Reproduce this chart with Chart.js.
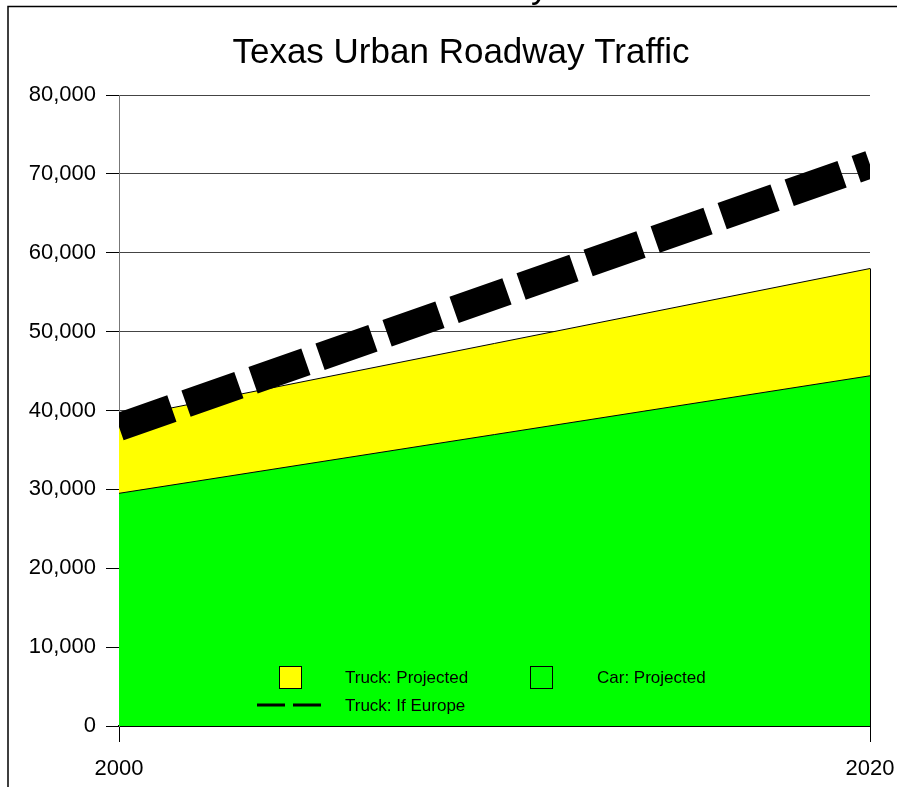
<!DOCTYPE html>
<html>
<head>
<meta charset="utf-8">
<script src="https://cdn.jsdelivr.net/npm/chart.js@4/dist/chart.umd.min.js"></script>
<style>
  html, body { margin: 0; padding: 0; background: #fff; }
  #wrap { width: 897px; height: 787px; position: relative; }
</style>
</head>
<body>
<div id="wrap"><canvas id="c" width="897" height="787"></canvas></div>
<script>
// ---- data ----
const chartTitle = "Texas Urban Roadway Traffic";
const years = [2000, 2020];
const carProjected = [29500, 44400];
const truckProjected = [9500, 13600];   // stacked on top of cars
const truckIfEurope = [37900, 71200];
const xTickValues = [2000, 2020];
const yTickMax = 80000;
const yTickStep = 10000;

const FONT = "'Liberation Sans', Arial, sans-serif";

const decorPlugin = {
  id: 'decor',
  beforeDraw(chart) {
    const ctx = chart.ctx;
    ctx.save();
    ctx.fillStyle = '#fff';
    ctx.fillRect(0, 0, chart.width, chart.height);
    // frame
    ctx.strokeStyle = '#000';
    ctx.lineWidth = 1.5;
    ctx.beginPath();
    ctx.moveTo(8, chart.height);
    ctx.lineTo(8, 6.5);
    ctx.lineTo(chart.width, 6.5);
    ctx.stroke();
    // cut-off text from above
    ctx.fillStyle = '#000';
    ctx.font = '35px ' + FONT;
    ctx.textBaseline = 'alphabetic';
    ctx.textAlign = 'left';
    ctx.fillText('y', 531, -2);
    // title
    ctx.textAlign = 'center';
    ctx.textBaseline = 'middle';
    ctx.fillText(chartTitle, 461, 53);
    ctx.restore();
  },
  afterDatasetsDraw(chart) {
    const ctx = chart.ctx;
    const xs = chart.scales.x, ys = chart.scales.y;
    // right edge of the filled areas
    const i = years.length - 1;
    const xr = xs.getPixelForValue(years[i]);
    const yt = ys.getPixelForValue(carProjected[i] + truckProjected[i]);
    ctx.save();
    ctx.strokeStyle = '#000';
    ctx.lineWidth = 1;
    ctx.beginPath();
    ctx.moveTo(xr + 0.5, yt);
    ctx.lineTo(xr + 0.5, ys.getPixelForValue(0));
    ctx.stroke();
    ctx.restore();
  },
  afterDraw(chart) {
    // legend inside plot
    const ctx = chart.ctx;
    const ds = chart.data.datasets;
    const europe = ds[0], car = ds[1], truck = ds[2];
    ctx.save();
    ctx.font = '17px ' + FONT;
    ctx.textBaseline = 'middle';
    ctx.textAlign = 'left';
    ctx.lineWidth = 1;
    ctx.strokeStyle = '#000';
    // Truck: Projected
    ctx.fillStyle = truck.backgroundColor;
    ctx.fillRect(279.5, 666.5, 22, 22);
    ctx.strokeRect(279.5, 666.5, 22, 22);
    ctx.fillStyle = '#000';
    ctx.fillText(truck.label, 345, 678);
    // Car: Projected
    ctx.fillStyle = car.backgroundColor;
    ctx.fillRect(530.5, 666.5, 22, 22);
    ctx.strokeRect(530.5, 666.5, 22, 22);
    ctx.fillStyle = '#000';
    ctx.fillText(car.label, 597, 678);
    // Truck: If Europe
    ctx.lineWidth = 3;
    ctx.beginPath();
    ctx.moveTo(257, 705); ctx.lineTo(285, 705);
    ctx.moveTo(293, 705); ctx.lineTo(321, 705);
    ctx.stroke();
    ctx.fillText(europe.label, 345, 706);
    ctx.restore();
  }
};

const ctx = document.getElementById('c').getContext('2d');
new Chart(ctx, {
  type: 'line',
  data: {
    datasets: [
      {
        label: 'Truck: If Europe',
        data: years.map((y, i) => ({ x: y, y: truckIfEurope[i] })),
        borderColor: '#000',
        borderWidth: 28,
        borderDash: [56, 15],
        borderCapStyle: 'butt',
        pointRadius: 0,
        fill: false,
        stack: 'europe',
        tension: 0
      },
      {
        label: 'Car: Projected',
        data: years.map((y, i) => ({ x: y, y: carProjected[i] })),
        borderColor: '#000',
        borderWidth: 1,
        backgroundColor: '#00ff00',
        pointRadius: 0,
        fill: 'origin',
        stack: 'projected',
        tension: 0
      },
      {
        label: 'Truck: Projected',
        data: years.map((y, i) => ({ x: y, y: truckProjected[i] })),
        borderColor: '#000',
        borderWidth: 1,
        backgroundColor: '#ffff00',
        pointRadius: 0,
        fill: '-1',
        stack: 'projected',
        tension: 0
      }
    ]
  },
  options: {
    responsive: false,
    animation: false,
    locale: 'en-US',
    layout: { padding: { top: 95, right: 27, left: 0, bottom: 0 } },
    plugins: {
      legend: { display: false },
      title: { display: false },
      tooltip: { enabled: false }
    },
    scales: {
      x: {
        type: 'linear',
        min: years[0],
        max: years[years.length - 1],
        afterBuildTicks(scale) { scale.ticks = xTickValues.map(v => ({ value: v })); },
        afterFit(scale) { scale.height = 787 - 726; scale.paddingRight = 0; scale.paddingLeft = 0; },
        border: { display: true, color: '#000', width: 2 },
        grid: { drawOnChartArea: false, drawTicks: true, tickLength: 16, tickColor: '#000', tickWidth: 1 },
        ticks: {
          color: '#000',
          font: { family: FONT, size: 22 },
          padding: 14,
          maxRotation: 0,
          autoSkip: false,
          callback: v => String(v)
        }
      },
      y: {
        stacked: true,
        min: 0,
        max: yTickMax,
        afterFit(scale) { scale.width = 119; },
        border: { display: true, color: '#777', width: 1 },
        grid: {
          color: ctx => ctx.tick && ctx.tick.value === 0 ? '#000' : '#444',
          lineWidth: 1,
          drawTicks: true,
          tickLength: 13,
          tickColor: '#000',
          tickWidth: 1
        },
        ticks: {
          stepSize: yTickStep,
          color: '#000',
          font: { family: FONT, size: 22 },
          padding: 10
        }
      }
    }
  },
  plugins: [decorPlugin]
});
</script>
</body>
</html>
